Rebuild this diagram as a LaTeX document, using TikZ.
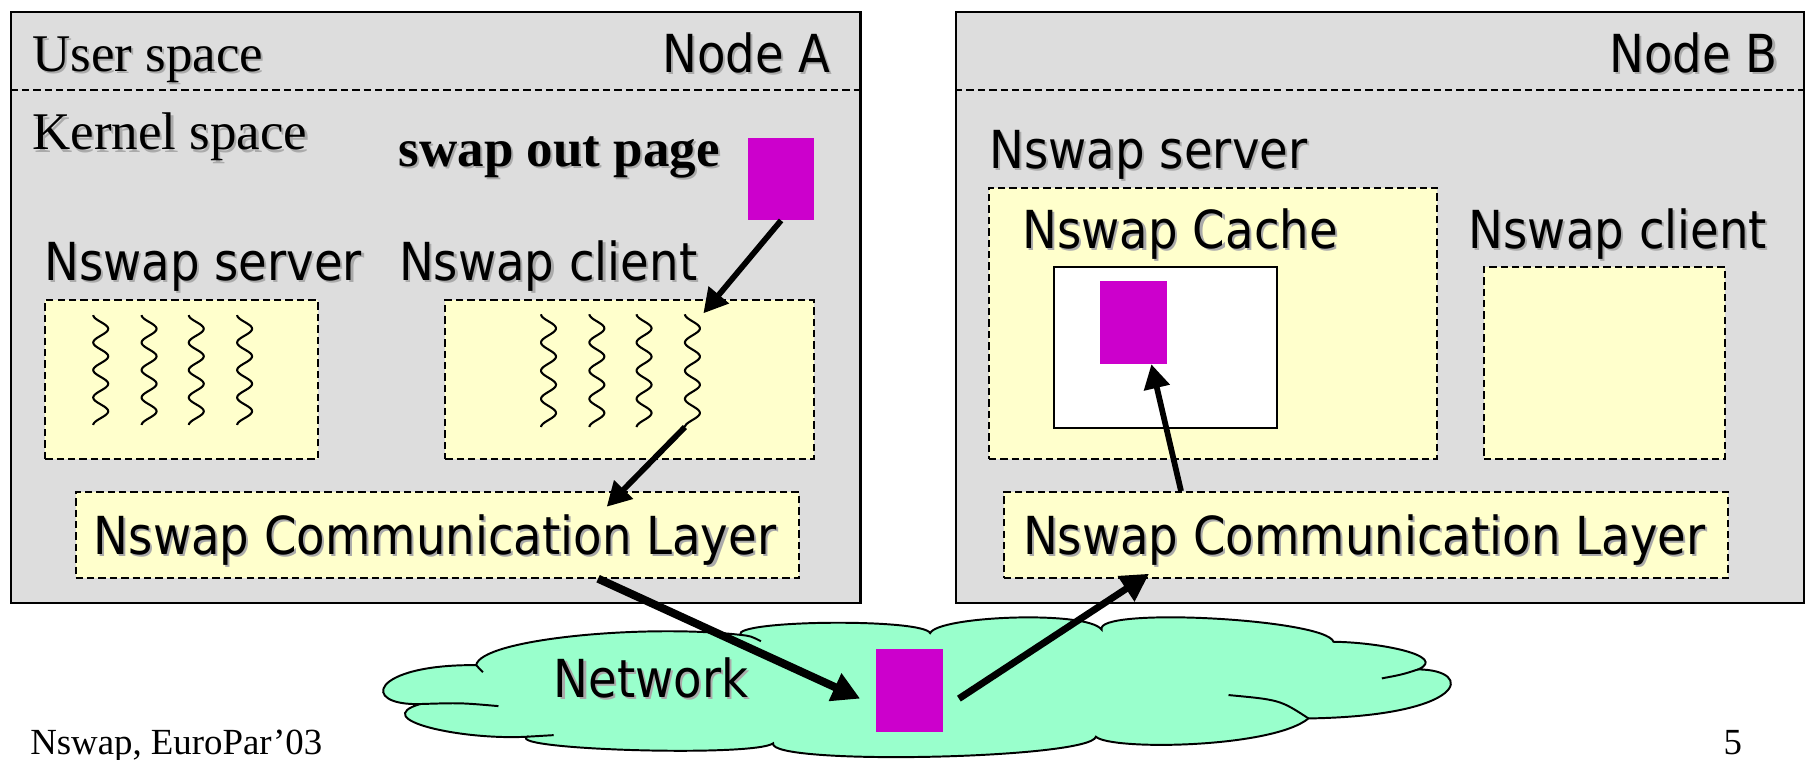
\documentclass[tikz,border=0pt]{standalone}
\usepackage{fontspec}
\setmainfont{Liberation Serif}
\newfontfamily\tahomalike[FakeStretch=0.89]{DejaVu Sans}
\usetikzlibrary{arrows.meta}

\definecolor{boxgray}{RGB}{221,221,221}
\definecolor{pale}{RGB}{255,255,204}
\definecolor{pagemag}{RGB}{204,0,204}
\definecolor{cloudgreen}{RGB}{153,255,204}
\definecolor{shadowgray}{RGB}{170,170,170}

% text with a soft drop shadow
\newcommand{\withshadow}[1]{\makebox[0pt][l]{\hspace*{1.8pt}\raisebox{-1.8pt}{\textcolor{shadowgray}{#1}}}#1}
\newcommand{\sanslabel}{\tahomalike\fontsize{45.5}{52}\selectfont}
\newcommand{\seriflabel}{\fontsize{46}{52}\selectfont}
\newcommand{\footlabel}{\fontsize{32}{36}\selectfont}

\tikzset{
  machine/.style={draw, line width=1.8pt, fill=boxgray, inner sep=0pt, anchor=north west},
  region/.style={draw, line width=1.7pt, dash pattern=on 6.4pt off 3.5pt, fill=pale, inner sep=0pt, anchor=north west},
  cachebox/.style={draw, line width=1.7pt, fill=white, inner sep=0pt, anchor=north west},
  page/.style={fill=pagemag, draw=none, inner sep=0pt, anchor=north west},
  sepline/.style={line width=1.7pt, dash pattern=on 6.4pt off 3.5pt},
  txt/.style={inner sep=0pt, outer sep=0pt},
  thread/.style={line width=1.8pt},
  thinarrow/.style={line width=5pt, -{Triangle[length=21pt,width=22pt]}},
  thickarrow/.style={line width=7pt, -{Triangle[length=24pt,width=25pt]}},
  cloudline/.style={line width=1.7pt}
}

\begin{document}
\begin{tikzpicture}[x=1pt,y=-1pt]
\useasboundingbox (0,0) rectangle (1568,660);

% ---------------- Node A ----------------
\node[machine, minimum width=737.6pt, minimum height=513.1pt] (nodeA) at (9,9.6) {};
\draw[sepline] ([yshift=-68.6pt]nodeA.north west) -- ([yshift=-68.6pt]nodeA.north east);

\node[txt, anchor=base west] (userA) at (28.3,61.7) {\seriflabel\withshadow{User space}};
\node[txt, anchor=base east] (nameA) at (721.7,63.1) {\sanslabel\withshadow{Node A}};
\node[txt, anchor=base west] (kernelA) at (28.3,130.3) {\seriflabel\withshadow{Kernel space}};
\node[txt, anchor=base west] (swapout) at (346.5,144.8) {\seriflabel\bfseries\withshadow{swap out page}};
\node[page, minimum width=57.8pt, minimum height=71.8pt] (pageA) at (649.4,119.3) {};

\node[txt, anchor=base west] (srvAlbl) at (38.5,243.3) {\sanslabel\withshadow{Nswap server}};
\node[txt, anchor=base west] (cliAlbl) at (346.7,243.3) {\sanslabel\withshadow{Nswap client}};

\node[region, minimum width=236.5pt, minimum height=138pt] (srvA) at (38.5,260) {};
\node[region, minimum width=320pt, minimum height=138pt] (cliA) at (386,260) {};

% kernel threads
\foreach \L in {81,123,164,206}
  \draw[thread] plot[domain=0:95.5, samples=97, smooth] ({\L+6.5-6.5*cos(15.075*\x)}, {273.7+\x});
\foreach \L in {470,512,553,595}
  \draw[thread] plot[domain=0:98, samples=99, smooth] ({\L+6.5-6.5*cos(14.694*\x)}, {273+\x});
\coordinate (thrTop) at (611,272.2);
\coordinate (thrEnd) at (595,371);

\node[region, minimum width=628.4pt, minimum height=74.4pt] (commA) at (64.8,426.6) {};
\node[txt, anchor=base] (commAlbl) at (378,481.3) {\sanslabel\withshadow{Nswap Communication Layer}};

% ---------------- Node B ----------------
\node[machine, minimum width=736.9pt, minimum height=513.1pt] (nodeB) at (829.6,9.6) {};
\draw[sepline] ([yshift=-68.6pt]nodeB.north west) -- ([yshift=-68.6pt]nodeB.north east);
\node[txt, anchor=base east] (nameB) at (1544.5,63.1) {\sanslabel\withshadow{Node B}};

\node[txt, anchor=base west] (srvBlbl) at (859.7,146.2) {\sanslabel\withshadow{Nswap server}};
\node[region, minimum width=389.1pt, minimum height=236pt] (srvB) at (858.1,162.2) {};
\node[txt, anchor=base west] (cacheLbl) at (888.4,215.8) {\sanslabel\withshadow{Nswap Cache}};
\node[cachebox, minimum width=193.5pt, minimum height=139.6pt] (cache) at (914.8,231.1) {};
\node[page, minimum width=58.6pt, minimum height=72pt] (pageB) at (955,244) {};

\node[txt, anchor=base west] (cliBlbl) at (1275.9,215.8) {\sanslabel\withshadow{Nswap client}};
\node[region, minimum width=209pt, minimum height=167.1pt] (cliB) at (1288.3,231.1) {};

\node[region, minimum width=629.2pt, minimum height=74.4pt] (commB) at (871.2,426.6) {};
\node[txt, anchor=base] (commBlbl) at (1185.1,481.3) {\sanslabel\withshadow{Nswap Communication Layer}};

% ---------------- arrows inside the nodes ----------------
\draw[thinarrow] (pageA.south) -- (thrTop);
\draw[thinarrow] (thrEnd) -- ([xshift=147.2pt,yshift=-13.6pt]commA.north);
\draw[thinarrow] ([xshift=-160.7pt]commB.north) -- ([xshift=15.7pt]pageB.south);

% ---------------- network cloud ----------------
\draw[cloudline, fill=cloudgreen]
  (413.6,577.8) .. controls (418,555) and (560,542) .. (643,551.5)
  .. controls (637,538.5) and (802,537) .. (808,550)
  .. controls (815,535) and (945,530) .. (957,547)
  .. controls (950.3,527) and (1151.7,537.5) .. (1158.4,557.5)
  .. controls (1200,558) and (1258,570) .. (1232,581.5)
  .. controls (1282,582) and (1275,622) .. (1136.7,624.1)
  .. controls (1105,650) and (965,652) .. (952,640)
  .. controls (947,659.4) and (666.6,665.1) .. (671.6,645.7)
  .. controls (656,657.7) and (442,651.5) .. (457.6,640)
  .. controls (400,643) and (320,625) .. (364.9,611.6)
  .. controls (312,613) and (322,577) .. cycle;
% inner folds of the cloud
\draw[cloudline] (413.6,577.8) -- (419.5,584);
\draw[cloudline] (643,551.5) .. controls (652,552.5) .. (661,557);
\draw[cloudline] (364.9,611.6) .. controls (400,610.5) .. (433,613.4);
\draw[cloudline] (457.6,640) .. controls (470,639) .. (481,638.6);
\draw[cloudline] (1232,581.5) .. controls (1218,586) .. (1200.4,589.3);
\draw[cloudline] (1136.7,624.1) .. controls (1112,608) .. (1067.2,603.8);

\node[txt, anchor=base west] (netLbl) at (481.2,605.8) {\sanslabel\withshadow{Network}};
\node[page, minimum width=57.9pt, minimum height=71.8pt] (pageN) at (760.8,563.9) {};

\draw[thickarrow] ([xshift=139.7pt]commA.south) -- ([xshift=-13.6pt,yshift=-6.9pt]pageN.west);
\draw[thickarrow, line width=6pt] ([xshift=13.9pt,yshift=-6.9pt]pageN.east) -- ([xshift=-188.4pt,yshift=4.3pt]commB.south);

% ---------------- footer ----------------
\node[txt, anchor=base west] (footer) at (26.3,655.5) {\footlabel Nswap, EuroPar’03};
\node[txt, anchor=base west] (pagenum) at (1497.2,655.5) {\footlabel 5};
\end{tikzpicture}
\end{document}
